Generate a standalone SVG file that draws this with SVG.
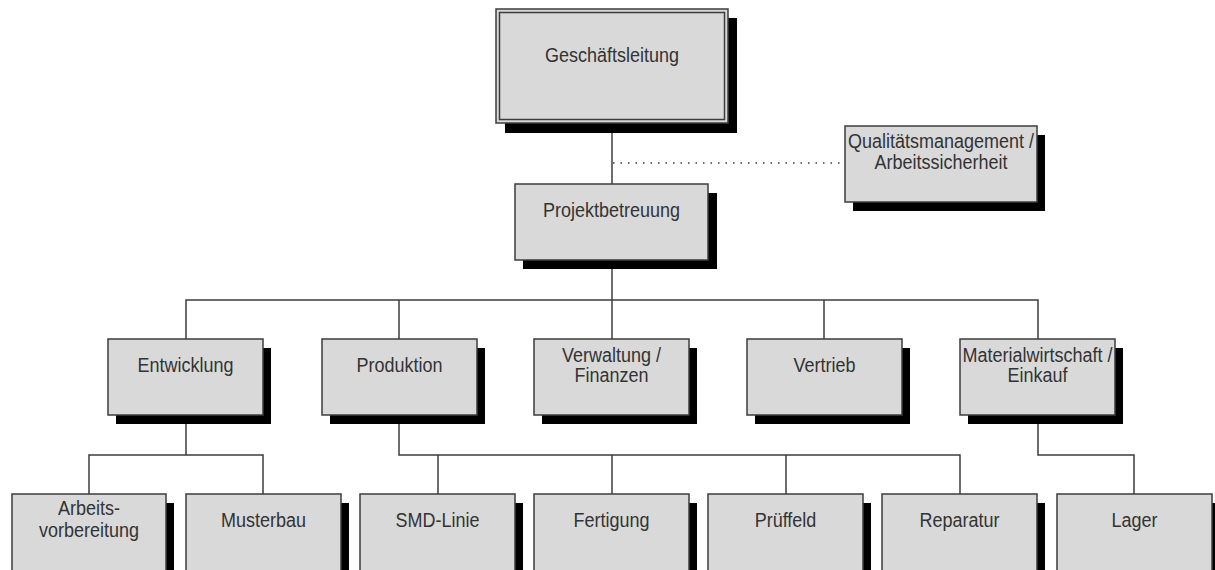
<svg xmlns="http://www.w3.org/2000/svg" width="1215" height="570" viewBox="0 0 1215 570">
<style>
.line{stroke:#3c3c3c;stroke-width:1.5;fill:none}
.dot{stroke:#3c3c3c;stroke-width:1.5;fill:none;stroke-dasharray:1.5 6}
.box{fill:#d9d9d9;stroke:#3c3c3c;stroke-width:1.5}
.sh{fill:#000}
text{font-family:"Liberation Sans",Arial,sans-serif;font-size:18px;fill:#333;text-anchor:middle}
</style>
<rect width="1215" height="570" fill="#fff"/>
<g id="connectors">
<line class="line" x1="612" y1="124" x2="612" y2="184"/>
<line class="dot" x1="613" y1="163" x2="845" y2="163"/>
<line class="line" x1="612" y1="260" x2="612" y2="339"/>
<polyline class="line" points="186,339 186,300 1038,300 1038,339"/>
<line class="line" x1="399" y1="300" x2="399" y2="339"/>
<line class="line" x1="824" y1="300" x2="824" y2="339"/>
<line class="line" x1="186" y1="415" x2="186" y2="455"/>
<polyline class="line" points="89,494 89,455 263,455 263,494"/>
<polyline class="line" points="399,415 399,455 960,455 960,494"/>
<line class="line" x1="438" y1="455" x2="438" y2="494"/>
<line class="line" x1="612" y1="455" x2="612" y2="494"/>
<line class="line" x1="786" y1="455" x2="786" y2="494"/>
<polyline class="line" points="1038,415 1038,455 1134,455 1134,494"/>
</g>
<g id="n-geschaeftsleitung">
<rect class="sh" x="505" y="18" width="232" height="115"/>
<rect class="box" x="496" y="9" width="232" height="114"/>
<rect x="499.5" y="12.5" width="225" height="107" fill="none" stroke="#3c3c3c" stroke-width="1.5"/>
<text transform="translate(612,62) scale(1,1.1)">Geschäftsleitung</text>
</g>
<g id="n-qualitaet">
<rect class="sh" x="853" y="135" width="192" height="76"/>
<rect class="box" x="845" y="126" width="192" height="76"/>
<text transform="translate(941,148) scale(1,1.1)">Qualitätsmanagement /</text>
<text transform="translate(941,169) scale(1,1.1)">Arbeitssicherheit</text>
</g>
<g id="n-projektbetreuung">
<rect class="sh" x="523" y="193" width="194" height="76"/>
<rect class="box" x="515" y="184" width="193" height="76"/>
<text transform="translate(611.5,216.5) scale(1,1.1)">Projektbetreuung</text>
</g>
<g id="n-entwicklung">
<rect class="sh" x="116" y="348" width="155" height="76"/>
<rect class="box" x="108" y="339" width="155" height="76"/>
<text transform="translate(185.5,371.5) scale(1,1.1)">Entwicklung</text>
</g>
<g id="n-produktion">
<rect class="sh" x="330" y="348" width="155" height="76"/>
<rect class="box" x="322" y="339" width="155" height="76"/>
<text transform="translate(399.5,371.5) scale(1,1.1)">Produktion</text>
</g>
<g id="n-verwaltung">
<rect class="sh" x="542" y="348" width="155" height="76"/>
<rect class="box" x="534" y="339" width="155" height="76"/>
<text transform="translate(611.5,361.5) scale(1,1.1)">Verwaltung /</text>
<text transform="translate(611.5,381.5) scale(1,1.1)">Finanzen</text>
</g>
<g id="n-vertrieb">
<rect class="sh" x="755" y="348" width="155" height="76"/>
<rect class="box" x="747" y="339" width="155" height="76"/>
<text transform="translate(824.5,371.5) scale(1,1.1)">Vertrieb</text>
</g>
<g id="n-materialwirtschaft">
<rect class="sh" x="968" y="348" width="155" height="76"/>
<rect class="box" x="960" y="339" width="155" height="76"/>
<text transform="translate(1037.5,361.5) scale(1,1.1)">Materialwirtschaft /</text>
<text transform="translate(1037.5,381.5) scale(1,1.1)">Einkauf</text>
</g>
<g id="n-arbeitsvorbereitung">
<rect class="sh" x="20" y="503" width="154" height="80"/>
<rect class="box" x="12" y="494" width="154" height="85"/>
<text transform="translate(89,515) scale(1,1.1)">Arbeits-</text>
<text transform="translate(89,536.5) scale(1,1.1)">vorbereitung</text>
</g>
<g id="n-musterbau">
<rect class="sh" x="194" y="503" width="155" height="80"/>
<rect class="box" x="186" y="494" width="155" height="85"/>
<text transform="translate(263.5,526.5) scale(1,1.1)">Musterbau</text>
</g>
<g id="n-smd">
<rect class="sh" x="368" y="503" width="155" height="80"/>
<rect class="box" x="360" y="494" width="155" height="85"/>
<text transform="translate(437.5,526.5) scale(1,1.1)">SMD-Linie</text>
</g>
<g id="n-fertigung">
<rect class="sh" x="542" y="503" width="155" height="80"/>
<rect class="box" x="534" y="494" width="155" height="85"/>
<text transform="translate(611.5,526.5) scale(1,1.1)">Fertigung</text>
</g>
<g id="n-prueffeld">
<rect class="sh" x="716" y="503" width="155" height="80"/>
<rect class="box" x="708" y="494" width="155" height="85"/>
<text transform="translate(785.5,526.5) scale(1,1.1)">Prüffeld</text>
</g>
<g id="n-reparatur">
<rect class="sh" x="890" y="503" width="155" height="80"/>
<rect class="box" x="882" y="494" width="155" height="85"/>
<text transform="translate(959.5,526.5) scale(1,1.1)">Reparatur</text>
</g>
<g id="n-lager">
<rect class="sh" x="1065" y="503" width="155" height="80"/>
<rect class="box" x="1057" y="494" width="155" height="85"/>
<text transform="translate(1134.5,526.5) scale(1,1.1)">Lager</text>
</g>
</svg>
